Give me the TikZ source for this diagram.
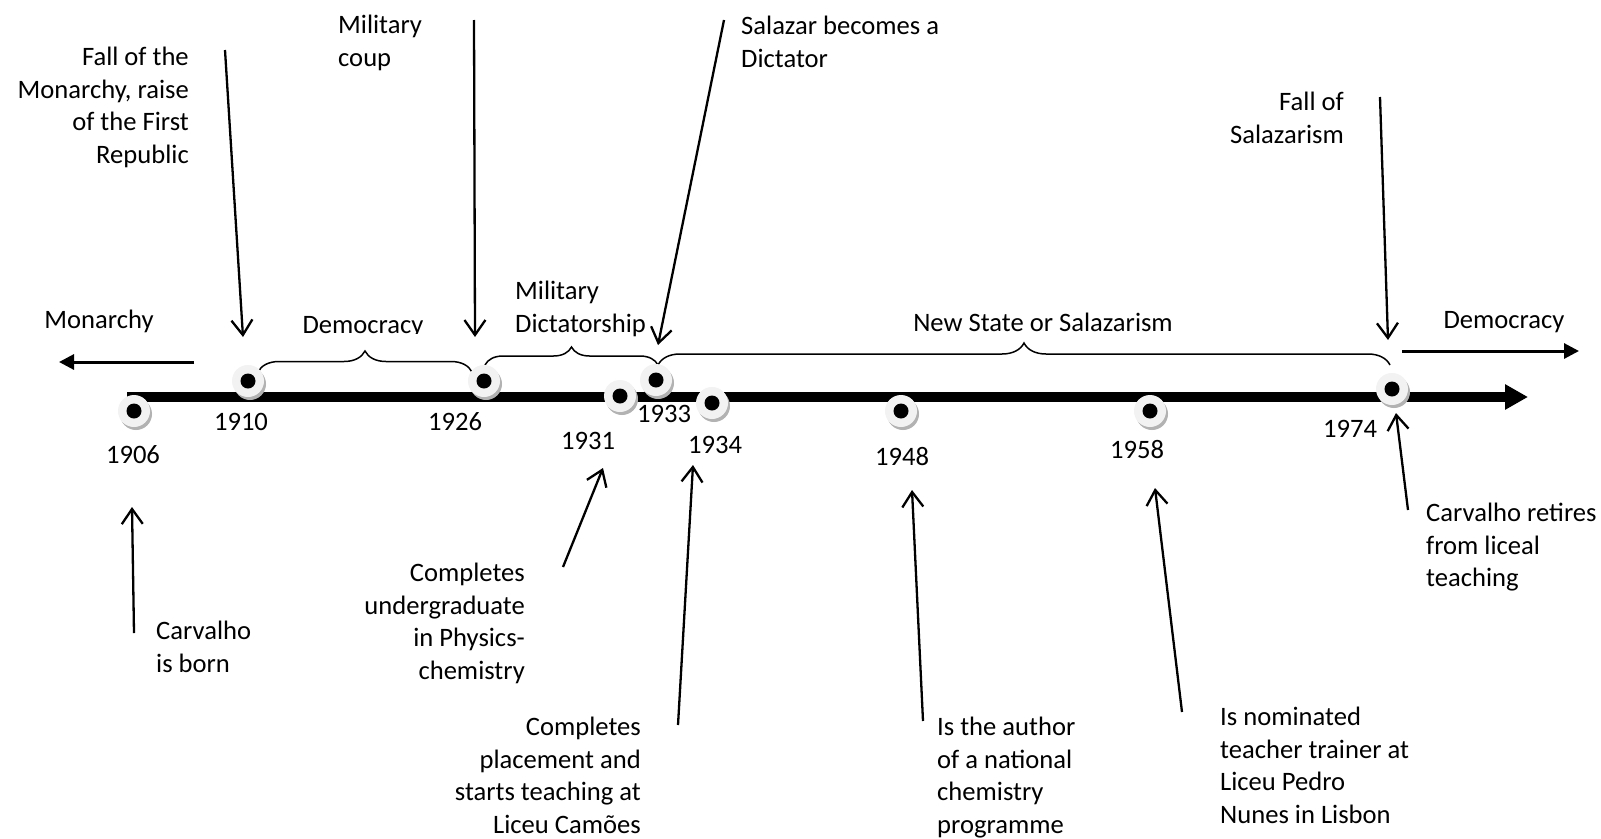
\documentclass[tikz,border=0pt]{standalone}
\usepackage{fontspec}
\setmainfont{Carlito}
\usetikzlibrary{arrows.meta,decorations.pathreplacing,shadows}
\begin{document}
\begin{tikzpicture}[x=1pt,y=-1pt,
  lbl/.style={inner sep=0pt, font=\fontsize{26.6}{32.6}\selectfont, execute at begin node=\strut},
  yr/.style={inner sep=0pt, font=\fontsize{26.6}{32.6}\selectfont},
  dotnode/.style={circle, minimum size=32pt, inner sep=0pt, fill=gray!10,
    drop shadow={shadow xshift=2pt, shadow yshift=-3pt, fill=gray!60, opacity=1}},
  ann/.style={line width=2.3pt, -{Straight Barb[length=15pt,width=21pt]}},
  fat/.style={line width=3pt, -{Triangle[length=15pt,width=15pt]}},
  brc/.style={line width=1.5pt, decorate, decoration={brace, amplitude=#1}},
]
\fill[white] (0,0) rectangle (1601,838);
\useasboundingbox (0,0) rectangle (1601,838);

% axis
\coordinate (axL) at (127,397);
\coordinate (axR) at (1528,397);
\draw[line width=10pt, -{Triangle[length=23pt,width=24pt]}] (axL) -- (axR);

% era arrows
\coordinate (monA) at (194,362);
\coordinate (monB) at (59,362);
\draw[fat] (monA) -- (monB);
\coordinate (demA) at (1402,351);
\coordinate (demB) at (1579,351);
\draw[fat] (demA) -- (demB);

% braces
\coordinate (b1a) at (258,372); \coordinate (b1b) at (472,372);
\coordinate (b2a) at (485,365); \coordinate (b2b) at (658,365);
\coordinate (b3a) at (658,365); \coordinate (b3b) at (1390,365);
\draw[brc=21pt] (b1a) -- (b1b);
\draw[brc=18pt] (b2a) -- (b2b);
\draw[brc=22pt] (b3a) -- (b3b);

% dots
\node[dotnode] (d06) at (134,411) {};
\node[dotnode] (d10) at (248,381) {};
\node[dotnode] (d26) at (484,381) {};
\node[dotnode] (d31) at (620,396) {};
\node[dotnode] (d33) at (656,380) {};
\node[dotnode] (d34) at (712,403) {};
\node[dotnode] (d48) at (901,411) {};
\node[dotnode] (d58) at (1150,411) {};
\node[dotnode] (d74) at (1392,389) {};
\foreach \n in {d06,d10,d26,d31,d33,d34,d48,d58,d74}
  \fill[black] (\n.center) circle (7.5);

% years
\node[yr] (y06) at (133,455) {1906};
\node[yr] (y10) at (241,422) {1910};
\node[yr] (y26) at (455,422) {1926};
\node[yr] (y31) at (588,441) {1931};
\node[yr] (y33) at (664,414) {1933};
\node[yr] (y34) at (715,445) {1934};
\node[yr] (y48) at (902,457) {1948};
\node[yr] (y58) at (1137,450) {1958};
\node[yr] (y74) at (1350,429) {1974};

% era labels
\node[lbl, anchor=base] (tMon) at (99,328) {Monarchy};
\begin{scope}
  \clip (250,280) rectangle (480,333);
  \node[lbl, anchor=base] (tDem1) at (363,333) {Democracy};
\end{scope}
\node[lbl, anchor=north west, align=left] (tMil) at (515,281) {Military\\Dictatorship};
\node[lbl, anchor=base] (tNew) at (1043,331) {New State or Salazarism};
\node[lbl, anchor=base] (tDem2) at (1504,328) {Democracy};

% top annotations
\node[lbl, anchor=north east, align=right] (tFall) at (189,47) {Fall of the\\Monarchy, raise\\of the First\\Republic};
\node[lbl, anchor=north west, align=left] (tCoup) at (338,15) {Military\\coup};
\node[lbl, anchor=north west, align=left] (tSal) at (741,16) {Salazar becomes a\\Dictator};
\node[lbl, anchor=north east, align=right] (tFallS) at (1344,92) {Fall of\\Salazarism};

% bottom annotations
\node[lbl, anchor=north west, align=left] (tBorn) at (156,621) {Carvalho\\is born};
\node[lbl, anchor=north east, align=right] (tUnd) at (525,563) {Completes\\undergraduate\\in Physics-\\chemistry};
\node[lbl, anchor=north east, align=right] (tPlace) at (641,717) {Completes\\placement and\\starts teaching at\\Liceu Camões};
\node[lbl, anchor=north west, align=left] (tAuth) at (937,717) {Is the author\\of a national\\chemistry\\programme};
\node[lbl, anchor=north west, align=left] (tNom) at (1220,707) {Is nominated\\teacher trainer at\\Liceu Pedro\\Nunes in Lisbon};
\begin{scope}
  \clip (1420,480) rectangle (1601,590);
  \node[lbl, anchor=north west, align=left] (tRet) at (1426,503) {Carvalho retires\\from liceal\\teaching};
\end{scope}

% annotation arrows
\coordinate (s10) at (225,50);   \coordinate (e10) at (243,337);
\coordinate (sCp) at (474,20);   \coordinate (eCp) at (475,337);
\coordinate (sSl) at (724,20);   \coordinate (eSl) at (658,345);
\coordinate (sFs) at (1380,97);  \coordinate (eFs) at (1388,340);
\coordinate (s06) at (134,633);  \coordinate (e06) at (132,507);
\coordinate (s31) at (563,567);  \coordinate (e31) at (603,468);
\coordinate (s34) at (678,725);  \coordinate (e34) at (693,465);
\coordinate (s48) at (923,721);  \coordinate (e48) at (912,490);
\coordinate (s58) at (1182,712); \coordinate (e58) at (1155,488);
\coordinate (s74) at (1408,510); \coordinate (e74) at (1396,413);
\foreach \a/\b in {s10/e10,sCp/eCp,sSl/eSl,sFs/eFs,s06/e06,s31/e31,s34/e34,s48/e48,s58/e58,s74/e74}
  \draw[ann] (\a) -- (\b);
\end{tikzpicture}
\end{document}
